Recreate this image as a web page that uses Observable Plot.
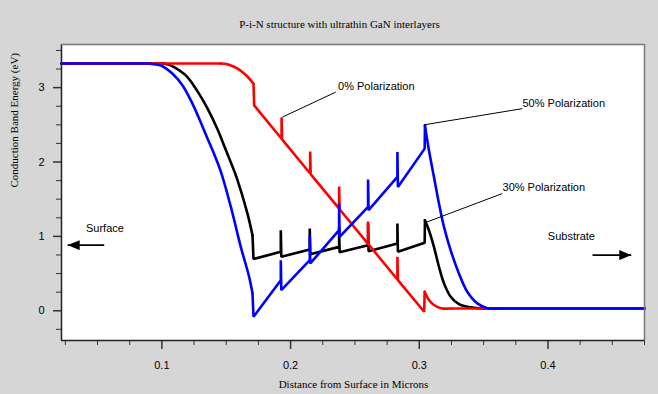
<!DOCTYPE html>
<html><head><meta charset="utf-8">
<script src="https://cdn.jsdelivr.net/npm/d3@7"></script>
<script src="https://cdn.jsdelivr.net/npm/@observablehq/plot@0.6"></script>
<style>body{margin:0;background:#d6d6d6}</style>
</head><body><div id="chart"></div>
<script>
const title = "P-i-N structure with ultrathin GaN interlayers";
const xLabel = "Distance from Surface in Microns";
const yLabel = "Conduction Band Energy (eV)";
const xDomain = [0.022, 0.475];
const yDomain = [-0.40, 3.58];
const xTicks = [0.1, 0.2, 0.3, 0.4];
const xMinorTicks = [0.025, 0.05, 0.075, 0.125, 0.15, 0.175, 0.225, 0.25, 0.275, 0.325, 0.35, 0.375, 0.425, 0.45, 0.475];
const yTicks = [0, 1, 2, 3];
const yMinorTicks = [-0.25, 0.25, 0.5, 0.75, 1.25, 1.5, 1.75, 2.25, 2.5, 2.75, 3.25, 3.5];

// 0% polarization (red)
const redX = [0.022, 0.1458, 0.1500, 0.1536, 0.1585, 0.1627, 0.1665, 0.1691, 0.1712, 0.1717,
  0.1930, 0.1930, 0.1934,
  0.2152, 0.2152, 0.2156,
  0.2377, 0.2377, 0.2381,
  0.2602, 0.2602, 0.2606,
  0.2830, 0.2830, 0.2834,
  0.3038, 0.3042, 0.3075, 0.3114, 0.3166, 0.3250, 0.475];
const redY = [3.325, 3.325, 3.318, 3.298, 3.260, 3.208, 3.150, 3.097, 3.052, 2.761,
  2.313, 2.600, 2.305,
  1.846, 2.140, 1.838,
  1.373, 1.670, 1.365,
  0.900, 1.200, 0.892,
  0.420, 0.725, 0.412,
  -0.013, 0.255, 0.144, 0.077, 0.035, 0.030, 0.030];
const redBreaks = [8, 26];

// 30% polarization (black)
const blackX = [0.022, 0.1018, 0.1055, 0.1095, 0.1186, 0.1277, 0.1355, 0.1432, 0.1497, 0.1536, 0.1588, 0.1665, 0.1704, 0.1712,
  0.1924, 0.1924, 0.1928,
  0.2149, 0.2149, 0.2153,
  0.2377, 0.2377, 0.2381,
  0.2602, 0.2602, 0.2606,
  0.2830, 0.2830, 0.2834,
  0.3042, 0.3044, 0.3075, 0.3114, 0.3153, 0.3192, 0.3244, 0.3308, 0.3399, 0.3500, 0.475];
const blackY = [3.325, 3.325, 3.308, 3.277, 3.164, 2.950, 2.717, 2.440, 2.160, 1.995, 1.754, 1.307, 1.016, 0.697,
  0.792, 1.083, 0.725,
  0.824, 1.106, 0.761,
  0.859, 1.128, 0.788,
  0.882, 1.173, 0.801,
  0.905, 1.173, 0.792,
  0.913, 1.217, 1.083, 0.859, 0.591, 0.368, 0.188, 0.090, 0.046, 0.030, 0.030];
const blackBreaks = [12, 30];

// 50% polarization (blue)
const blueX = [0.022, 0.0889, 0.0940, 0.0992, 0.1083, 0.1161, 0.1225, 0.1290, 0.1355, 0.1394, 0.1458, 0.1536, 0.1613, 0.1678, 0.1704, 0.1712,
  0.1924, 0.1924, 0.1928,
  0.2149, 0.2149, 0.2153,
  0.2377, 0.2377, 0.2381,
  0.2602, 0.2602, 0.2606,
  0.2830, 0.2830, 0.2834,
  0.3042, 0.3044, 0.3075, 0.3114, 0.3153, 0.3192, 0.3244, 0.3308, 0.3373, 0.3451, 0.3529, 0.3600, 0.475];
const blueY = [3.325, 3.325, 3.315, 3.298, 3.187, 3.030, 2.828, 2.583, 2.314, 2.157, 1.870, 1.396, 0.859, 0.456, 0.234, -0.081,
  0.411, 0.680, 0.277,
  0.681, 1.016, 0.636,
  1.083, 1.442, 0.993,
  1.396, 1.764, 1.352,
  1.799, 2.134, 1.664,
  2.180, 2.493, 2.157, 1.799, 1.442, 1.128, 0.812, 0.502, 0.255, 0.099, 0.035, 0.030, 0.030];
const blueBreaks = [14, 32];

// annotations
const seriesLabels = ["0% Polarization", "50% Polarization", "30% Polarization"];
const seriesLabelX = [0.2369, 0.3802, 0.3647];
const seriesLabelY = [3.020, 2.784, 1.651];
const leaderX1 = [0.1937, 0.3044, 0.3050];
const leaderY1 = [2.604, 2.502, 1.187];
const leaderX2 = [0.2351, 0.3800, 0.3645];
const leaderY2 = [2.940, 2.717, 1.576];
const sideLabels = ["Surface", "Substrate"];
const sideLabelX = [0.0410, 0.3999];
const sideLabelY = [1.106, 1.003];
const arrowX1 = [0.0552, 0.4346];
const arrowX2 = [0.0268, 0.4647];
const arrowY = [0.882, 0.748];

const pts = (xs, ys) => xs.map((x, i) => ({x, y: ys[i]}));
const leaders = leaderX1.map((x, i) => ({x1: x, y1: leaderY1[i], x2: leaderX2[i], y2: leaderY2[i]}));
const labels = seriesLabels.map((t, i) => ({t, x: seriesLabelX[i], y: seriesLabelY[i]}));
const sides = sideLabels.map((t, i) => ({t, x: sideLabelX[i], y: sideLabelY[i]}));
const arrows = arrowX1.map((x, i) => ({x1: x, x2: arrowX2[i], y: arrowY[i]}));

const lineOpts = {x: "x", y: "y", strokeWidth: 2.6, strokeLinejoin: "miter", strokeLinecap: "round"};
function seriesMarks(xs, ys, breaks, color) {
  const d = pts(xs, ys);
  const [a, b] = breaks;
  const n = d.length;
  return [
    Plot.line(d.slice(0, 2), {...lineOpts, stroke: color}),
    Plot.line(d.slice(1, a + 1), {...lineOpts, stroke: color, curve: "catmull-rom"}),
    Plot.line(d.slice(a, b + 1), {...lineOpts, stroke: color}),
    Plot.line(d.slice(b, n - 1), {...lineOpts, stroke: color, curve: "catmull-rom"}),
    Plot.line(d.slice(n - 2), {...lineOpts, stroke: color})
  ];
}

const serif = "'Liberation Serif', 'Times New Roman', serif";
const svg = Plot.plot({
  width: 658, height: 394,
  marginLeft: 61, marginRight: 14, marginTop: 44, marginBottom: 54,
  style: {background: "#d6d6d6", fontFamily: "'Liberation Sans', Arial, sans-serif", fontSize: "11px", color: "black", overflow: "visible"},
  x: {domain: xDomain, label: null},
  y: {domain: yDomain, label: null},
  marks: [
    Plot.frame({fill: "white"}),
    Plot.axisX(xTicks, {anchor: "bottom", tickSize: 9, tickPadding: 12, tickFormat: d => d.toFixed(1), label: null, strokeWidth: 1.5, stroke: "#333", fontSize: 11}),
    Plot.axisX(xMinorTicks, {anchor: "bottom", tickSize: 5, tickFormat: () => "", label: null, stroke: "#333"}),
    Plot.axisY(yTicks, {anchor: "left", tickSize: 8, tickPadding: 9, tickFormat: d => String(d), label: null, strokeWidth: 1.5, stroke: "#333", fontSize: 11}),
    Plot.axisY(yMinorTicks, {anchor: "left", tickSize: 5, tickFormat: () => "", label: null, stroke: "#333"}),
    ...seriesMarks(blackX, blackY, blackBreaks, "black"),
    ...seriesMarks(redX, redY, redBreaks, "#ff0000"),
    ...seriesMarks(blueX, blueY, blueBreaks, "#0000ff"),
    Plot.link(leaders, {x1: "x1", y1: "y1", x2: "x2", y2: "y2", stroke: "black", strokeWidth: 1}),
    Plot.text(labels, {x: "x", y: "y", text: "t", textAnchor: "start", fontSize: 11, fill: "black"}),
    Plot.text(sides, {x: "x", y: "y", text: "t", textAnchor: "start", fontSize: 11, fill: "black"}),
    Plot.link(arrows, {x1: "x1", y1: "y", x2: "x2", y2: "y", stroke: "black", strokeWidth: 1.8, markerEnd: "arrow"}),
    Plot.ruleX([xDomain[0]], {stroke: "#222", strokeWidth: 1.5}),
    Plot.ruleY([yDomain[0]], {stroke: "#222", strokeWidth: 1.5}),
    Plot.ruleX([xDomain[1]], {stroke: "#777", strokeWidth: 1.5}),
    Plot.ruleY([yDomain[1]], {stroke: "#777", strokeWidth: 1.5}),
    Plot.text([title], {text: d => d, frameAnchor: "top", dx: -13.5, dy: -24.3, fontFamily: serif, fontSize: 11, fill: "black"}),
    Plot.text([xLabel], {text: d => d, frameAnchor: "bottom", dx: 0.5, dy: 47, fontFamily: serif, fontSize: 11, fill: "black"}),
    Plot.text([yLabel], {text: d => d, frameAnchor: "left", rotate: -90, dx: -47, dy: -5, fontFamily: serif, fontSize: 11, fill: "black"})
  ]
});

const s = d3.select(svg);
s.append("defs").append("marker")
  .attr("id", "ahead").attr("viewBox", "0 0 12 10").attr("refX", 12).attr("refY", 5)
  .attr("markerWidth", 12).attr("markerHeight", 10).attr("markerUnits", "userSpaceOnUse").attr("orient", "auto")
  .append("path").attr("d", "M0,0L12,5L0,10Z").attr("fill", "black");
s.selectAll("[marker-end]").attr("marker-end", "url(#ahead)");

document.getElementById("chart").appendChild(svg);
</script>
</body></html>
